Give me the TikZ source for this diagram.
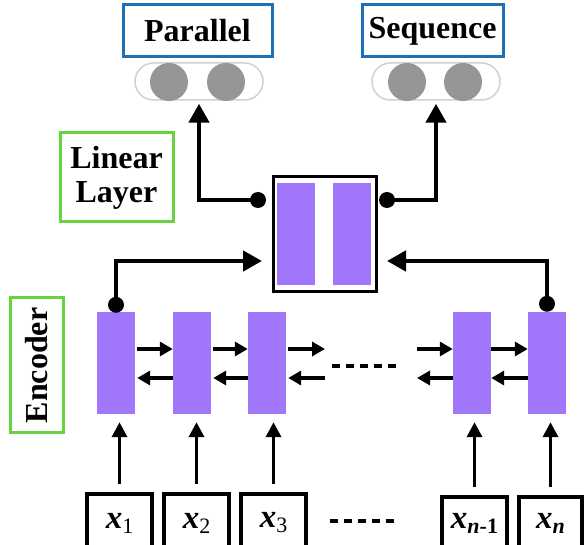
\documentclass[tikz,border=0pt]{standalone}
\usepackage{fontspec}
\setmainfont{Liberation Serif}
\usetikzlibrary{arrows.meta,calc}
\definecolor{cellpurple}{RGB}{160,118,250}
\definecolor{boxblue}{RGB}{28,112,184}
\definecolor{boxgreen}{RGB}{102,212,64}
\definecolor{dotgray}{RGB}{150,150,150}
\definecolor{pillgray}{RGB}{208,208,208}
\tikzset{
  bigfont/.style={font=\fontsize{32}{36}\selectfont\bfseries},
  outbox/.style={draw=boxblue, line width=3pt, bigfont, inner sep=0pt, minimum height=52pt},
  labbox/.style={draw=boxgreen, line width=3pt, bigfont, inner sep=0pt, align=center},
  pill/.style={draw=pillgray, line width=1.5pt, rounded corners=18.5pt, minimum width=128pt, minimum height=37pt, inner sep=0pt},
  ball/.style={circle, fill=dotgray, minimum size=38pt, inner sep=0pt},
  cell/.style={fill=cellpurple, minimum width=38pt, minimum height=102pt, inner sep=0pt},
  bar/.style={fill=cellpurple, minimum width=38pt, minimum height=102pt, inner sep=0pt},
  hub/.style={draw=black, line width=3pt, minimum width=103pt, minimum height=115pt, inner sep=0pt},
  inbox/.style={draw=black, line width=3.5pt, inner sep=0pt, font=\fontsize{33}{33}\selectfont},
  mainarrow/.style={line width=4.5pt, -{Triangle[length=19pt,width=20pt]}},
  hop/.style={line width=3.5pt, -{Triangle[length=13pt,width=14pt]}},
  feed/.style={line width=3.5pt, -{Triangle[length=15pt,width=15pt]}},
  dotsline/.style={line width=3.5pt, dash pattern=on 8pt off 6pt},
  knob/.style={circle, fill=black, minimum size=16pt, inner sep=0pt},
}
\newcommand{\subx}[1]{\raisebox{-5pt}{\fontsize{22}{22}\selectfont #1}}
\newcommand{\xin}[1]{\textbf{\textit{x}}\subx{#1}}
\begin{document}
\begin{tikzpicture}[x=1pt,y=-1pt]
\useasboundingbox (0,0) rectangle (587,545);
\clip (0,0) rectangle (587,545);

% output boxes
\node[outbox, minimum width=149pt] (par) at (197.5,31) {Parallel};
\node[outbox, minimum width=141pt] (seq) at (432.5,31) {Sequence};

% pills
\node[pill] (ppill) at (199,81.5) {};
\node[ball] (pb1) at (169,82) {};
\node[ball] (pb2) at (226,82) {};
\node[pill] (spill) at (436,81.5) {};
\node[ball] (sb1) at (407,82) {};
\node[ball] (sb2) at (463,82) {};

% linear layer label
\node[labbox, minimum width=113pt, minimum height=89pt] (lin) at (116.5,177.5) {Linear\\[-2pt]Layer};

% hub
\node[hub] (hub) at (324.5,234.5) {};
\node[bar] (hbl) at (296,234) {};
\node[bar] (hbr) at (352,234) {};

% encoder label
\node[draw=boxgreen, line width=3pt, minimum width=53pt, minimum height=135pt, inner sep=0pt] (enc) at (36.5,365.5) {};
\node[bigfont, rotate=90] (enct) at (enc.center) {Encoder};

% cells
\node[cell] (c1) at (116,363) {};
\node[cell] (c2) at (192,363) {};
\node[cell] (c3) at (267,363) {};
\node[cell] (c4) at (472,363) {};
\node[cell] (c5) at (547,363) {};

% input boxes
\node[inbox, minimum width=65pt, minimum height=58pt] (x1) at (119.5,523) {\xin{1}};
\node[inbox, minimum width=65pt, minimum height=58pt] (x2) at (196.5,523) {\xin{2}};
\node[inbox, minimum width=65pt, minimum height=58pt] (x3) at (273.5,523) {\xin{3}};
\node[inbox, minimum width=65pt, minimum height=52pt] (x4) at (474.5,523) {\textbf{\textit{x}}\subx{\textbf{\textit{n}}\textbf{-1}}};
\node[inbox, minimum width=63pt, minimum height=52pt] (x5) at (550.5,523) {\textbf{\textit{x}}\subx{\textbf{\textit{n}}}};

% outputs from hub
\coordinate (lo) at (258,200);
\coordinate (ro) at (387,200);
\draw[mainarrow, shorten >=3pt] (lo) -| (ppill.south);
\draw[mainarrow, shorten >=3pt] (ro) -| (spill.south);
\node[knob] (lok) at (lo) {};
\node[knob] (rok) at (ro) {};

% inputs to hub
\coordinate (d1) at ([yshift=7pt]c1.north);
\coordinate (d5) at ([yshift=8pt]c5.north);
\coordinate (hl) at (262,261);
\coordinate (hr) at (387,261);
\draw[mainarrow] (d1) |- (hl);
\draw[mainarrow] (d5) |- (hr);
\node[knob] (d1k) at (d1) {};
\node[knob] (d5k) at (d5) {};

% recurrent arrows
\draw[hop, shorten <=2pt] ([yshift=14pt]c1.east) -- ([yshift=14pt]c2.west);
\draw[hop, shorten >=2pt] ([yshift=-15pt]c2.west) -- ([yshift=-15pt]c1.east);
\draw[hop, shorten <=2pt] ([yshift=14pt]c2.east) -- ([yshift=14pt]c3.west);
\draw[hop, shorten >=2pt] ([yshift=-15pt]c3.west) -- ([yshift=-15pt]c2.east);
\coordinate (r3a) at (325,349);
\coordinate (r3b) at (325,378);
\draw[hop, shorten <=2pt] ([yshift=14pt]c3.east) -- (r3a);
\draw[hop, shorten >=2pt] (r3b) -- ([yshift=-15pt]c3.east);
\coordinate (l4a) at (417,349);
\coordinate (l4b) at (417,378);
\draw[hop] (l4a) -- ([yshift=14pt]c4.west);
\draw[hop] ([yshift=-15pt]c4.west) -- (l4b);
\draw[hop] ([yshift=14pt]c4.east) -- ([yshift=14pt]c5.west);
\draw[hop] ([yshift=-15pt]c5.west) -- ([yshift=-15pt]c4.east);

% dotted gaps
\coordinate (ma) at (332,366);
\coordinate (mb) at (400,366);
\draw[dotsline] (ma) -- (mb);
\coordinate (ba) at (330,521);
\coordinate (bb) at (398,521);
\draw[dotsline] (ba) -- (bb);

% feed arrows
\foreach \i/\c in {x1/c1,x2/c2,x3/c3,x4/c4,x5/c5}{
  \draw[feed, shorten <=8pt, shorten >=8pt] (\i.north) -- (\i.north |- \c.south);
}
\end{tikzpicture}
\end{document}
